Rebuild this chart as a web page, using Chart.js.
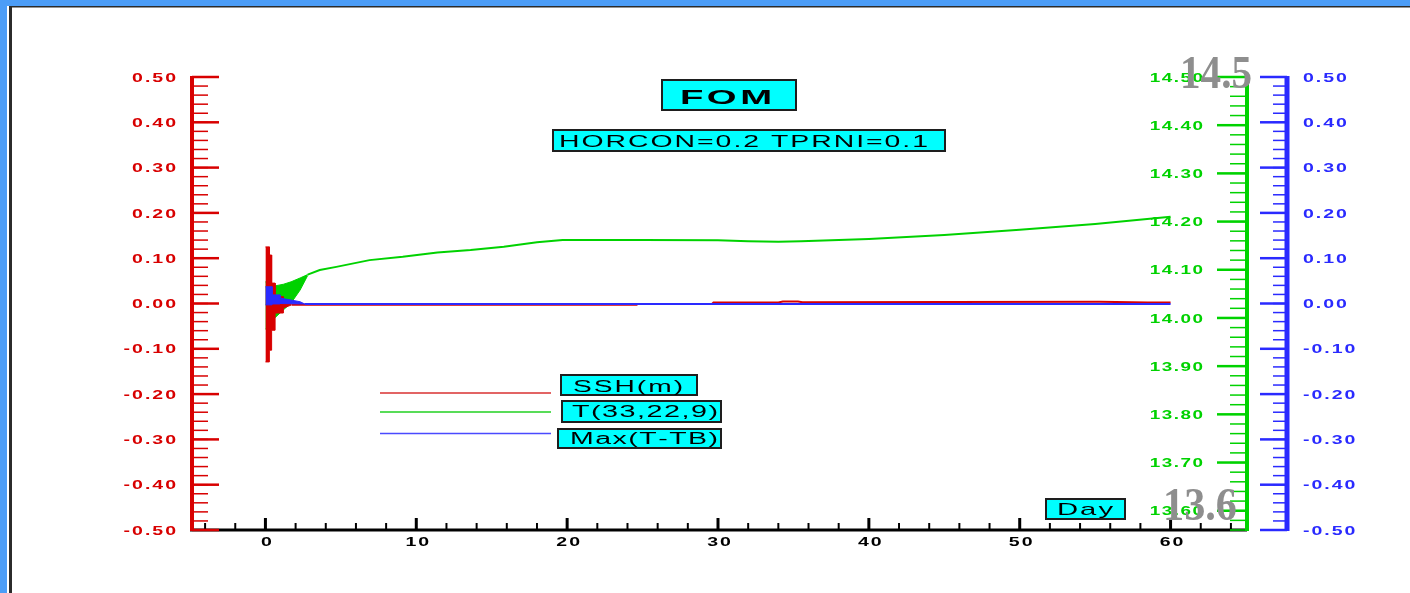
<!DOCTYPE html>
<html>
<head>
<meta charset="utf-8">
<title>FOM</title>
<script src="https://cdn.jsdelivr.net/npm/chart.js@4.4.1/dist/chart.umd.min.js"></script>
<style>
  html, body { margin: 0; padding: 0; background: #fff; }
  #wrap { width: 1410px; height: 593px; position: relative; overflow: hidden; }
</style>
</head>
<body>
<div id="wrap"><canvas id="fomChart" width="1410" height="593"></canvas></div>
<script>
// tick labels
const dayTicks = [0, 10, 20, 30, 40, 50, 60];
const sshTicks = [0.5, 0.4, 0.3, 0.2, 0.1, 0, -0.1, -0.2, -0.3, -0.4, -0.5];
const tTicks = [14.5, 14.4, 14.3, 14.2, 14.1, 14.0, 13.9, 13.8, 13.7, 13.6];
const maxTicks = [0.5, 0.4, 0.3, 0.2, 0.1, 0, -0.1, -0.2, -0.3, -0.4, -0.5];

// SSH(m) - spin-up envelope and then the main trace
const sshBandDays  = [0, 0.26, 0.26, 0.41, 0.41, 0.64, 0.64, 1.19, 1.19, 1.74];
const sshBandUpper = [0.125, 0.125, 0.107, 0.107, 0.045, 0.045, 0.015, 0.015, 0.002, 0.0];
const sshBandLower = [-0.129, -0.129, -0.103, -0.103, -0.059, -0.059, -0.021, -0.021, -0.010, -0.003];
const sshDays   = [1.74, 24.6, 24.7, 29.6, 29.7, 34.0, 34.3, 35.3, 35.6, 55.3, 58.5, 60];
const sshValues = [-0.003, -0.003, -0.001, -0.001, 0.002, 0.002, 0.0045, 0.0045, 0.003, 0.004, 0.002, 0.002];

// T(33,22,9)
const tBandDays  = [0, 0.45, 0.55, 1.2, 1.7, 2.3, 2.8];
const tBandUpper = [14.075, 14.070, 14.066, 14.070, 14.075, 14.083, 14.090];
const tBandLower = [13.977, 13.977, 13.998, 14.017, 14.031, 14.058, 14.088];
const tDays   = [2.8, 3.6, 4.7, 6.9, 9.1, 11.4, 13.6, 15.8, 18.0, 19.7, 21.5, 25, 30, 32, 34, 35.5, 38, 40, 45, 50, 55, 60];
const tValues = [14.09, 14.0995, 14.106, 14.120, 14.127, 14.136, 14.141, 14.148, 14.157, 14.162, 14.162, 14.162, 14.161, 14.159, 14.158, 14.159, 14.162, 14.164, 14.172, 14.183, 14.195, 14.210];

// Max(T-TB)
const maxBandDays  = [0, 0.44, 0.44, 0.97, 0.97, 2.29, 2.6];
const maxBandUpper = [0.037, 0.037, 0.019, 0.019, 0.012, 0.004, -0.001];
const maxBandLower = [-0.003, -0.003, -0.001, -0.001, 0.0, -0.001, -0.001];
const maxDays   = [2.6, 60];
const maxValues = [-0.001, -0.001];

const RED = "#d80000";
const GREEN = "#00d200";
const BLUE = "#2a2aff";
const CYAN = "#00ffff";

function pts(xs, ys) {
    return xs.map((x, i) => ({ x: x, y: ys[i] }));
}

function lineSet(label, xs, ys, color, axis, order, width) {
    return {
        label: label,
        data: pts(xs, ys),
        yAxisID: axis,
        borderColor: color,
        backgroundColor: color,
        borderWidth: width,
        pointRadius: 0,
        tension: 0,
        fill: false,
        order: order
    };
}

function bandSets(xs, upper, lower, color, axis, order) {
    const up = lineSet("upper", xs, upper, color, axis, order, 1);
    const low = lineSet("lower", xs, lower, color, axis, order, 1);
    low.fill = "-1";
    return [up, low];
}

// text helpers: old plot fonts are wide, so stretch glyphs horizontally
function charsWidth(ctx, str) {
    let w = 0;
    for (const ch of str) w += ctx.measureText(ch).width;
    return w;
}

function drawSpaced(ctx, str, x, baseY, sx, gap, align) {
    const w = charsWidth(ctx, str) * sx + gap * (str.length - 1);
    let cx = x;
    if (align === "right") cx = x - w;
    if (align === "center") cx = x - w / 2;
    for (const ch of str) {
        ctx.save();
        ctx.translate(cx, baseY);
        ctx.scale(sx, 1);
        ctx.fillText(ch, 0, 0);
        ctx.restore();
        cx += ctx.measureText(ch).width * sx + gap;
    }
}

function drawFitted(ctx, str, left, right, baseY, gap) {
    const sx = (right - left - gap * (str.length - 1)) / charsWidth(ctx, str);
    drawSpaced(ctx, str, left, baseY, sx, gap, "left");
}

function tick(ctx, x1, y1, x2, y2, color, w) {
    ctx.strokeStyle = color;
    ctx.lineWidth = w;
    ctx.beginPath();
    ctx.moveTo(x1, y1);
    ctx.lineTo(x2, y2);
    ctx.stroke();
}

function cyanBox(ctx, x1, y1, x2, y2) {
    ctx.fillStyle = CYAN;
    ctx.fillRect(x1, y1, x2 - x1, y2 - y1);
    ctx.strokeStyle = "#1e1e1e";
    ctx.lineWidth = 2;
    ctx.strokeRect(x1 + 1, y1 + 1, x2 - x1 - 2, y2 - y1 - 2);
}

const framePlugin = {
    id: "frame",
    beforeDraw(chart) {
        const ctx = chart.ctx;
        ctx.save();
        ctx.fillStyle = "#ffffff";
        ctx.fillRect(0, 0, chart.width, chart.height);
        ctx.fillStyle = "#4c9df7";
        ctx.fillRect(0, 0, chart.width, 6);
        ctx.fillRect(0, 0, 7, chart.height);
        ctx.fillStyle = "#2b2b2b";
        ctx.fillRect(9, 6, chart.width - 9, 1.5);
        ctx.fillRect(9, 6, 3, chart.height - 6);
        ctx.restore();
    }
};

const axesPlugin = {
    id: "fomAxes",
    afterDraw(chart) {
        const ctx = chart.ctx;
        const area = chart.chartArea;
        const xS = chart.scales.x;
        const sS = chart.scales.ySSH;
        const tS = chart.scales.yT;
        const mS = chart.scales.yMax;
        const fs = 13;
        const base = fs * 0.358;
        const labelFont = 'bold ' + fs + 'px "Liberation Sans"';
        ctx.save();
        ctx.textAlign = "left";
        ctx.textBaseline = "alphabetic";

        // bottom day axis
        ctx.fillStyle = "#000";
        ctx.fillRect(area.left, area.bottom - 1.5, 1247 - area.left, 3);
        for (let d = -4; d <= 64; d += 2) {
            if (d % 10 === 0) continue;
            const x = xS.getPixelForValue(d);
            tick(ctx, x, area.bottom, x, area.bottom - 7, "#000", 2);
        }
        ctx.font = labelFont;
        dayTicks.forEach(d => {
            const x = xS.getPixelForValue(d);
            tick(ctx, x, area.bottom, x, area.bottom - 12, "#000", 3);
            ctx.fillStyle = "#000";
            drawSpaced(ctx, String(d), x + 1, 541 + base, 1.5, 2, "center");
        });

        // left SSH axis (red)
        const lx = area.left + 2;
        for (let i = 0; i <= 50; i++) {
            const y = sS.getPixelForValue(-0.5 + i * 0.02);
            tick(ctx, lx, y, lx + 16, y, RED, 1.5);
        }
        sshTicks.forEach(v => {
            const y = sS.getPixelForValue(v);
            tick(ctx, lx, y, lx + 27, y, RED, 2.5);
            ctx.fillStyle = RED;
            drawSpaced(ctx, v.toFixed(2), 176, y + base, 1.5, 2, "right");
        });
        ctx.fillStyle = RED;
        ctx.fillRect(area.left, area.top - 1, 4, area.bottom - area.top + 2);

        // right T axis (green)
        const gx = 1247;
        for (let i = 0; i <= 47; i++) {
            const y = tS.getPixelForValue(13.56 + i * 0.02);
            tick(ctx, gx - 17, y, gx, y, GREEN, 1.5);
        }
        tTicks.forEach(v => {
            const y = tS.getPixelForValue(v);
            tick(ctx, gx - 30, y, gx, y, GREEN, 2.5);
            ctx.fillStyle = GREEN;
            drawSpaced(ctx, v.toFixed(2), 1203, y + base, 1.45, 1.5, "right");
        });
        ctx.fillStyle = GREEN;
        ctx.fillRect(gx - 2, area.top - 1, 4, area.bottom - area.top + 2);

        // far right Max axis (blue)
        const bx = 1287;
        for (let i = 0; i <= 50; i++) {
            const y = mS.getPixelForValue(-0.5 + i * 0.02);
            tick(ctx, bx - 14, y, bx, y, BLUE, 1.5);
        }
        maxTicks.forEach(v => {
            const y = mS.getPixelForValue(v);
            tick(ctx, bx - 27, y, bx, y, BLUE, 2.5);
            ctx.fillStyle = BLUE;
            drawSpaced(ctx, v.toFixed(2), 1303, y + base, 1.5, 2, "left");
        });
        ctx.fillStyle = BLUE;
        ctx.fillRect(bx - 2.5, area.top - 1, 5, area.bottom - area.top + 2);

        // title boxes
        cyanBox(ctx, 661, 79, 797, 111);
        ctx.fillStyle = "#000";
        ctx.font = 'bold 21px "Liberation Sans"';
        drawFitted(ctx, "FOM", 680, 772, 103.5, 3.5);

        cyanBox(ctx, 552, 129, 946, 152);
        ctx.fillStyle = "#000";
        ctx.font = '16px "Liberation Sans"';
        drawFitted(ctx, "HORCON=0.2 TPRNI=0.1", 559, 928, 147, 2);

        // legend
        tick(ctx, 380, 393, 551, 393, "#d83030", 1.5);
        tick(ctx, 380, 412, 551, 412, "#20d020", 1.5);
        tick(ctx, 380, 433.5, 551, 433.5, "#4a4aff", 1.5);
        cyanBox(ctx, 560, 374, 698, 396);
        cyanBox(ctx, 561, 400, 722, 423);
        cyanBox(ctx, 557, 428, 722, 449);
        ctx.fillStyle = "#000";
        ctx.font = '16px "Liberation Sans"';
        drawFitted(ctx, "SSH(m)", 573, 683, 392, 2);
        drawFitted(ctx, "T(33,22,9)", 572, 718, 417, 1.5);
        drawFitted(ctx, "Max(T-TB)", 570, 718, 444, 1.5);

        cyanBox(ctx, 1045, 498, 1126, 520);
        ctx.fillStyle = "#000";
        ctx.font = '17px "Liberation Sans"';
        drawFitted(ctx, "Day", 1057, 1113, 515, 2);

        // grey range notes pasted over the T axis
        ctx.fillStyle = "#8e8e8e";
        ctx.font = 'bold 46px "Liberation Serif"';
        drawFitted(ctx, "14.5", 1180, 1252, 88, 0);
        drawFitted(ctx, "13.6", 1163, 1237, 520, 0);
        ctx.restore();
    }
};

const datasets = [
    lineSet("Max(T-TB)", maxDays, maxValues, BLUE, "yMax", 1, 2),
    ...bandSets(maxBandDays, maxBandUpper, maxBandLower, BLUE, "yMax", 1),
    lineSet("SSH(m)", sshDays, sshValues, RED, "ySSH", 2, 2),
    ...bandSets(sshBandDays, sshBandUpper, sshBandLower, RED, "ySSH", 2),
    lineSet("T(33,22,9)", tDays, tValues, GREEN, "yT", 3, 2),
    ...bandSets(tBandDays, tBandUpper, tBandLower, GREEN, "yT", 3)
];

new Chart(document.getElementById("fomChart"), {
    type: "line",
    data: { datasets: datasets },
    options: {
        responsive: false,
        animation: false,
        devicePixelRatio: 1,
        layout: { padding: { left: 190, right: 164, top: 77, bottom: 63 } },
        plugins: {
            legend: { display: false },
            title: { display: false },
            tooltip: { enabled: false }
        },
        scales: {
            x: { type: "linear", min: -5, max: 65, display: false },
            ySSH: { type: "linear", position: "left", min: -0.5, max: 0.5, display: false },
            yT: { type: "linear", position: "right", min: 13.56, max: 14.5, display: false },
            yMax: { type: "linear", position: "right", min: -0.5, max: 0.5, display: false }
        }
    },
    plugins: [framePlugin, axesPlugin]
});
</script>
</body>
</html>
